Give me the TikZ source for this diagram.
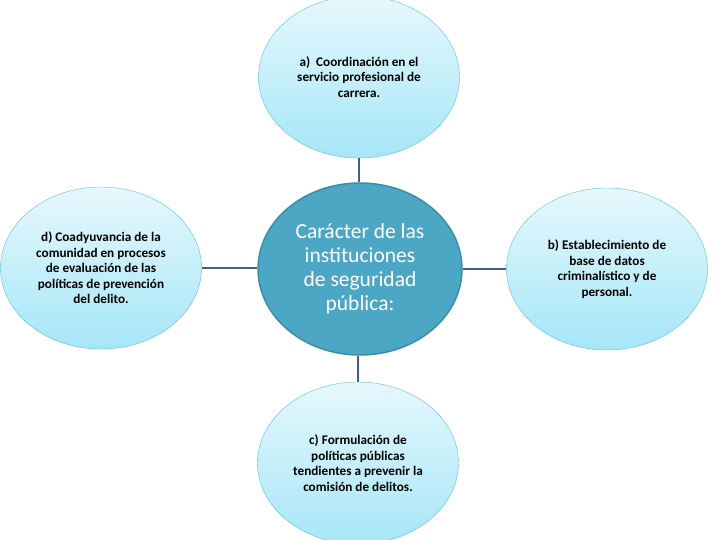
\documentclass[tikz,border=0pt]{standalone}
\usepackage{fontspec}
\setmainfont{Carlito}
\usepackage{xcolor}
\usetikzlibrary{shapes.geometric}

\definecolor{lineblue}{HTML}{3F5F8C}
\definecolor{hubfill}{HTML}{4BA7C3}
\definecolor{hubedge}{HTML}{3A8CA8}
\definecolor{bubtop}{HTML}{E6F8FD}
\definecolor{bubbot}{HTML}{A6E6F7}
\definecolor{bubedge}{HTML}{5DBFDC}

\tikzset{
    bubble/.style={ellipse, draw=bubedge, thin, top color=bubtop, bottom color=bubbot,
        minimum width=201pt, minimum height=162pt, inner sep=0pt,
        align=center, font=\fontsize{13.2}{15.5}\selectfont\bfseries},
    hub/.style={ellipse, draw=hubedge, line width=1.5pt, fill=hubfill, text=white,
        minimum width=204pt, minimum height=172pt, inner sep=0pt,
        align=center, font=\fontsize{21.5}{24}\selectfont},
    link/.style={lineblue, line width=2.5pt}
}

\begin{document}
\begin{tikzpicture}[x=1pt, y=-1pt]
    % Fix the frame to the page size
    \useasboundingbox (0,0) rectangle (720,540);

    % Central node
    \node[hub] (hub) at (360,269) {Carácter de las\\instituciones\\de seguridad\\pública:};

    % The four surrounding bubbles
    \node[bubble] (coord) at (359,77) {a)\ \ Coordinación en el\\servicio profesional de\\carrera.};
    \node[bubble] (datos) at (607,269) {b) Establecimiento de\\base de datos\\criminalístico y de\\personal.};
    \node[bubble] (polit) at (358,463) {c) Formulación de\\políticas públicas\\tendientes a prevenir la\\comisión de delitos.};
    \node[bubble] (comun) at (101,268) {d) Coadyuvancia de la\\comunidad en procesos\\de evaluación de las\\políticas de prevención\\del delito.};

    % Connectors from the hub
    \draw[link] (coord.south) -- (coord.south |- hub.north);
    \draw[link] (hub.east) -- (hub.east -| datos.west);
    \draw[link] (polit.north |- hub.south) -- (polit.north);
    \draw[link] (comun.east) -- (comun.east -| hub.west);
\end{tikzpicture}
\end{document}
